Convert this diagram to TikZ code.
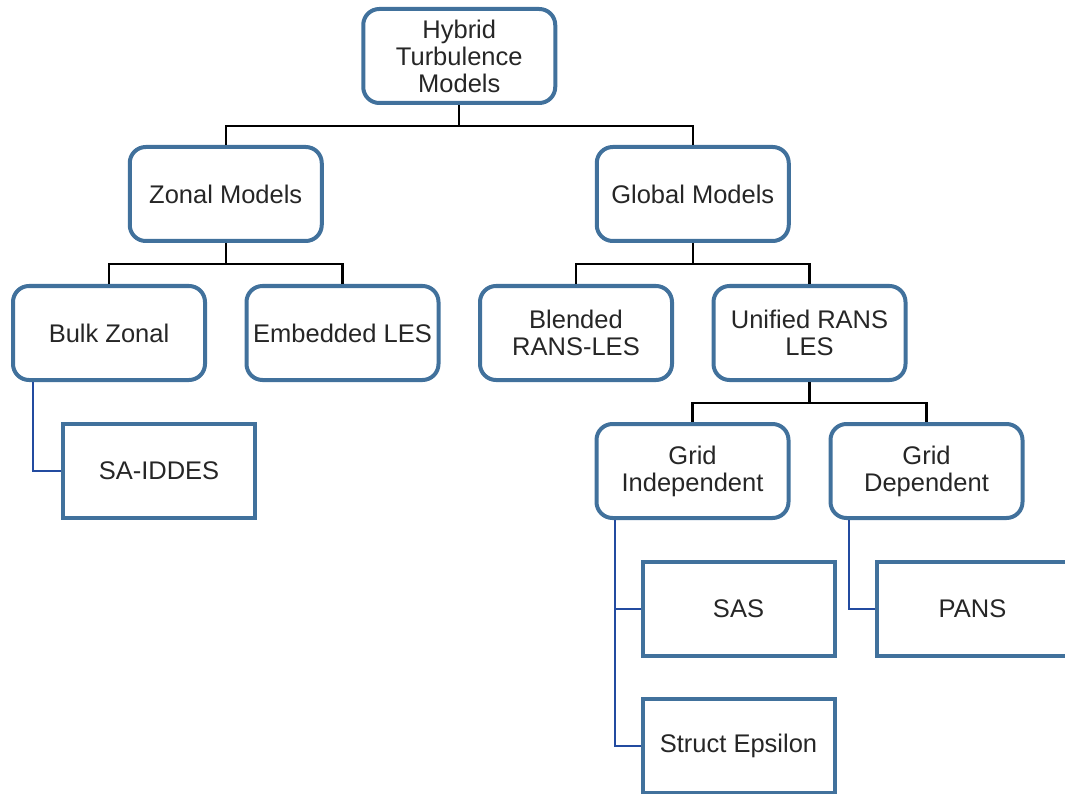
\documentclass[tikz,border=0pt]{standalone}
\usepackage{fontspec}
\setmainfont{Liberation Sans}
\usetikzlibrary{positioning,calc}
\definecolor{boxblue}{RGB}{65,113,156}
\definecolor{linkblue}{RGB}{35,75,160}
\begin{document}
\begin{tikzpicture}[
        x=1pt, y=1pt,
        node distance=40pt and 37.5pt,
        model/.style={draw=boxblue, line width=4pt, rounded corners=16pt,
                      align=center, minimum width=192pt, minimum height=94pt,
                      inner sep=2pt, text=black!85,
                      font=\fontsize{25.5}{27}\selectfont},
        leaf/.style={model, sharp corners},
        tree/.style={line width=2.2pt},
        link/.style={line width=2pt, draw=linkblue}
    ]
        \useasboundingbox (0,0) rectangle (1065,-794);
        \clip (0,0) rectangle (1065,-794);

        \node[model] (bulk) at (109,-333) {Bulk Zonal};
        \node[model, right=of bulk] (embedded) {Embedded LES};
        \node[model, right=of embedded] (blended) {Blended\\RANS-LES};
        \node[model, right=of blended] (unified) {Unified RANS\\LES};
        \node[model, above=41pt of $(bulk.north)!0.5!(embedded.north)$] (zonal) {Zonal Models};
        \node[model, above=41pt of $(blended.north)!0.5!(unified.north)$] (global) {Global Models};
        \node[model, above=40pt of $(zonal.north)!0.5!(global.north)$] (root) {Hybrid\\Turbulence\\Models};
        \node[model, below left=40pt and 19pt of unified.south] (gridind) {Grid\\Independent};
        \node[model, below right=40pt and 19pt of unified.south] (griddep) {Grid\\Dependent};
        \node[leaf, below right=40pt and 50pt of bulk.south west] (saiddes) {SA-IDDES};
        \node[leaf, below right=40pt and 46pt of gridind.south west] (sas) {SAS};
        \node[leaf, below=39pt of sas] (struct) {Struct Epsilon};
        \node[leaf, below right=40pt and 46pt of griddep.south west] (pans) {PANS};

        % tree connectors
        \draw[tree] (root.south) -- ++(0,-21) -| (zonal.north);
        \draw[tree] (root.south) ++(0,-21) -| (global.north);
        \draw[tree] (zonal.south) -- ++(0,-21) -| (bulk.north);
        \draw[tree] (zonal.south) ++(0,-21) -| (embedded.north);
        \draw[tree] (global.south) -- ++(0,-21) -| (blended.north);
        \draw[tree] (global.south) ++(0,-21) -| (unified.north);
        \draw[tree] (unified.south) -- ++(0,-21) -| (gridind.north);
        \draw[tree] (unified.south) ++(0,-21) -| (griddep.north);

        % leaf links
        \draw[link] ([xshift=22pt]bulk.south west) |- (saiddes.west);
        \draw[link] ([xshift=20pt]gridind.south west) |- (sas.west);
        \draw[link] ([xshift=20pt]gridind.south west) |- (struct.west);
        \draw[link] ([xshift=20pt]griddep.south west) |- (pans.west);
    \end{tikzpicture}
\end{document}
